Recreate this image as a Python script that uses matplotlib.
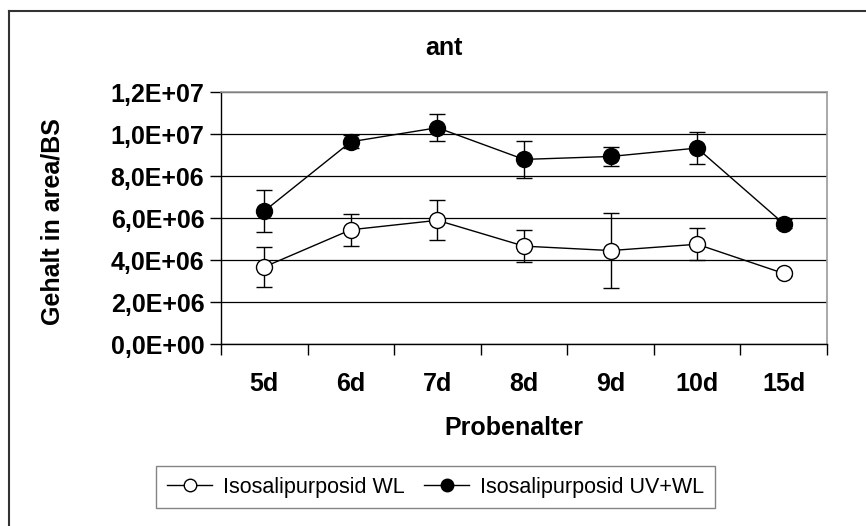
import matplotlib.pyplot as plt
from matplotlib.lines import Line2D

plt.rcParams['font.family'] = ['Liberation Sans', 'DejaVu Sans']

# data
categories = ['5d', '6d', '7d', '8d', '9d', '10d', '15d']
wl = [3.67e6, 5.44e6, 5.89e6, 4.66e6, 4.45e6, 4.75e6, 3.36e6]
wl_err = [0.95e6, 0.75e6, 0.95e6, 0.76e6, 1.8e6, 0.77e6, 0.1e6]
uvwl = [6.33e6, 9.63e6, 1.03e7, 8.79e6, 8.93e6, 9.33e6, 5.73e6]
uvwl_err = [1.0e6, 0.3e6, 0.65e6, 0.9e6, 0.45e6, 0.78e6, 0.2e6]
yticks = [0, 2e6, 4e6, 6e6, 8e6, 1e7, 1.2e7]
ytick_labels = ['0,0E+00', '2,0E+06', '4,0E+06', '6,0E+06', '8,0E+06', '1,0E+07', '1,2E+07']

W, H = 866, 526
fig = plt.figure(figsize=(W / 100, H / 100), dpi=100)
ax = fig.add_axes([221 / W, 1 - 344 / H, 606 / W, 252 / H])

x = list(range(len(categories)))
ax.errorbar(x, wl, yerr=wl_err, color='black', lw=1, marker='o', ms=11.5,
            mfc='white', mec='black', mew=1, capsize=5.5, elinewidth=1, zorder=3)
ax.errorbar(x, uvwl, yerr=uvwl_err, color='black', lw=1, marker='o', ms=11.5,
            mfc='black', mec='black', capsize=5.5, elinewidth=1, zorder=3)

ax.set_xlim(-0.5, len(categories) - 0.5)
ax.set_ylim(0, 1.2e7)
ax.set_yticks(yticks)
ax.set_yticklabels(ytick_labels, fontsize=18, fontweight='bold')
ax.set_xticks(x)
ax.set_xticklabels(categories, fontsize=18, fontweight='bold')
ax.set_xticks([i + 0.5 for i in range(-1, len(categories))], minor=True)
ax.tick_params(axis='x', which='major', length=0, pad=20)
ax.tick_params(axis='x', which='minor', length=8, direction='out', width=1)
ax.tick_params(axis='y', length=8, direction='out', width=1, pad=4)
ax.grid(axis='y', color='black', lw=0.9)
ax.set_axisbelow(True)
for s in ['top', 'right']:
    ax.spines[s].set_color('#999999')
    ax.spines[s].set_linewidth(1.2)
for s in ['left', 'bottom']:
    ax.spines[s].set_color('black')
    ax.spines[s].set_linewidth(1)

fig.text(444 / W, 1 - 48 / H, 'ant', ha='center', va='center', fontsize=18, fontweight='bold')
fig.text(514 / W, 1 - 428 / H, 'Probenalter', ha='center', va='center', fontsize=18, fontweight='bold')
fig.text(53 / W, 1 - 222 / H, 'Gehalt in area/BS', ha='center', va='center', rotation=90,
         fontsize=18, fontweight='bold')

handles = [
    Line2D([], [], color='black', lw=1, marker='o', ms=9, mfc='white', mec='black'),
    Line2D([], [], color='black', lw=1, marker='o', ms=9, mfc='black', mec='black'),
]
labels = ['Isosalipurposid WL', 'Isosalipurposid UV+WL']
leg = fig.legend(handles, labels, loc='center', bbox_to_anchor=(435.5 / W, 1 - 487 / H), ncol=2,
                 fontsize=15.5, frameon=True, fancybox=False, handlelength=2.1,
                 columnspacing=0.9, handletextpad=0.5, borderpad=0.5, borderaxespad=0)
leg.get_frame().set_edgecolor('#666666')
leg.get_frame().set_linewidth(1)

# chart area border, only left and top visible in the crop
fig.add_artist(Line2D([9 / W, 9 / W], [0, 1 - 11 / H], color='#333333', lw=1.5))
fig.add_artist(Line2D([9 / W, 1], [1 - 11 / H, 1 - 11 / H], color='#333333', lw=1.5))

fig.savefig('out.png', dpi=100)
